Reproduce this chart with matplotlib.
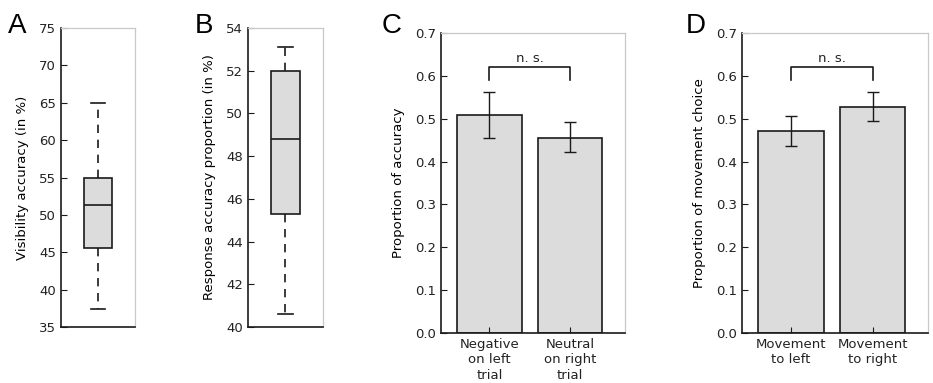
import matplotlib
matplotlib.use("Agg")
import matplotlib.pyplot as plt

plt.rcParams["font.family"] = "DejaVu Sans"
plt.rcParams["font.size"] = 9.5

# Panel A: visibility accuracy box (in %)
A_STATS = dict(med=51.3, q1=45.6, q3=55.0, whislo=37.4, whishi=65.0)
A_YTICKS = [35, 40, 45, 50, 55, 60, 65, 70, 75]
# Panel B: response accuracy proportion box (in %)
B_STATS = dict(med=48.8, q1=45.3, q3=52.0, whislo=40.6, whishi=53.1)
B_YTICKS = [40, 42, 44, 46, 48, 50, 52, 54]
# Panel C: accuracy by trial type
C_LABELS = ["Negative\non left\ntrial", "Neutral\non right\ntrial"]
C_MEANS = [0.508, 0.456]
C_LOW = [0.455, 0.423]
C_HIGH = [0.562, 0.493]
# Panel D: movement choice
D_LABELS = ["Movement\nto left", "Movement\nto right"]
D_MEANS = [0.472, 0.527]
D_LOW = [0.437, 0.494]
D_HIGH = [0.507, 0.562]

FACE = "#dcdcdc"
DARK = "#1a1a1a"
LIGHT = "#c8c8c8"

fig = plt.figure(figsize=(9.33, 3.83), dpi=100)
axA = fig.add_axes([0.0654, 0.1462, 0.0793, 0.7807])
axB = fig.add_axes([0.2658, 0.1462, 0.0804, 0.7807])
axC = fig.add_axes([0.4727, 0.1305, 0.1972, 0.7833])
axD = fig.add_axes([0.7953, 0.1305, 0.1994, 0.7833])


def style(ax):
    for s in ("left", "bottom"):
        ax.spines[s].set_color(DARK)
        ax.spines[s].set_linewidth(1.2)
    for s in ("top", "right"):
        ax.spines[s].set_color(LIGHT)
        ax.spines[s].set_linewidth(0.9)
    ax.tick_params(axis="y", direction="in", length=4, right=False, colors=DARK,
                   labelcolor="#222222")
    ax.tick_params(axis="x", direction="in", length=4, top=False, colors=DARK,
                   labelcolor="#222222")


def boxpanel(ax, stats, yticks, ylabel):
    st = dict(stats)
    st["fliers"] = []
    ax.bxp([st], positions=[1], widths=0.38, patch_artist=True, showfliers=False,
           boxprops=dict(facecolor=FACE, edgecolor=DARK, linewidth=1.2),
           medianprops=dict(color=DARK, linewidth=1.2),
           whiskerprops=dict(color=DARK, linewidth=1.2, linestyle=(0, (5, 4))),
           capprops=dict(color=DARK, linewidth=1.2))
    ax.set_xlim(0.5, 1.5)
    ax.set_ylim(yticks[0], yticks[-1])
    ax.set_yticks(yticks)
    ax.set_xticks([])
    ax.set_ylabel(ylabel, labelpad=7)
    style(ax)


def barpanel(ax, labels, means, low, high, ylabel):
    x = list(range(len(means)))
    err = [[m - l for m, l in zip(means, low)], [h - m for m, h in zip(means, high)]]
    ax.bar(x, means, width=0.8, color=FACE, edgecolor=DARK, linewidth=1.2,
           yerr=err, error_kw=dict(ecolor=DARK, elinewidth=1.0, capsize=4,
                                   capthick=1.0))
    ax.set_xlim(-0.6, 1.68)
    ax.set_ylim(0, 0.7)
    ax.set_yticks([0.0, 0.1, 0.2, 0.3, 0.4, 0.5, 0.6, 0.7])
    ax.set_xticks(x)
    ax.set_xticklabels(labels, linespacing=1.25)
    ax.set_ylabel(ylabel, labelpad=7)
    ax.plot([0, 0, 1, 1], [0.59, 0.62, 0.62, 0.59], color=DARK, linewidth=1.2)
    ax.text(0.5, 0.625, "n. s.", ha="center", va="bottom", fontsize=9.5,
            color="#222222")
    style(ax)


boxpanel(axA, A_STATS, A_YTICKS, "Visibility accuracy (in %)")
boxpanel(axB, B_STATS, B_YTICKS, "Response accuracy proportion (in %)")
barpanel(axC, C_LABELS, C_MEANS, C_LOW, C_HIGH, "Proportion of accuracy")
barpanel(axD, D_LABELS, D_MEANS, D_LOW, D_HIGH, "Proportion of movement choice")

for letter, xp in (("A", 8), ("B", 195), ("C", 382), ("D", 686)):
    fig.text(xp / 933, 1 - 33 / 383, letter, fontsize=20, ha="left", va="baseline",
             family=["Liberation Sans", "DejaVu Sans"])

fig.savefig("out.png", dpi=100)
